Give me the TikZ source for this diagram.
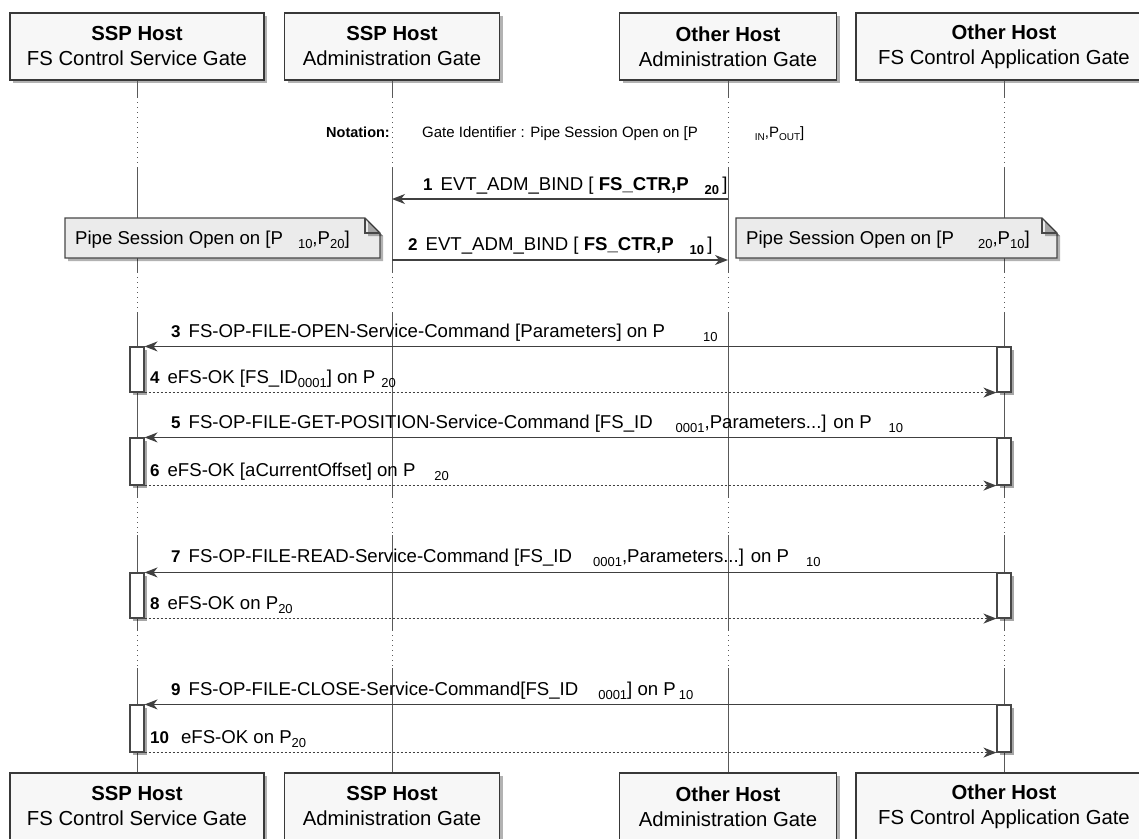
\documentclass[tikz,border=0pt]{standalone}
\usepackage{fontspec}
\setmainfont{Liberation Sans}
\usetikzlibrary{arrows.meta,shadows}

\newcommand{\psub}[1]{\raisebox{-4.5bp}{\fontsize{13bp}{13bp}\selectfont #1}}
\newcommand{\tsub}[1]{\raisebox{-3bp}{\fontsize{10bp}{10bp}\selectfont #1}}
\newcommand{\mnum}[1]{{\bfseries\fontsize{17bp}{17bp}\selectfont #1}\hspace{8bp}}

\begin{document}
\begin{tikzpicture}[x=1bp,y=-1bp,
  part/.style={draw=black!78,line width=1.4bp,fill=black!3,minimum height=67bp,inner sep=0,align=center,
    font=\fontsize{20.3bp}{25bp}\selectfont,
    drop shadow={shadow xshift=3bp,shadow yshift=-3bp,fill=black,opacity=0.3}},
  lifeok/.style={draw=black!65,line width=1bp},
  lifedot/.style={lifeok,dash pattern=on 1bp off 4bp},
  act/.style={draw=black!72,line width=1.1bp,fill=white,minimum width=14bp,inner sep=0,
    drop shadow={shadow xshift=3bp,shadow yshift=-3bp,fill=black,opacity=0.35}},
  msg/.style={draw=black!75,line width=1.2bp,-{Stealth[length=13bp,width=10bp,inset=4bp]}},
  reply/.style={msg,dash pattern=on 2bp off 2bp},
  lbl/.style={anchor=base west,inner sep=0,font=\fontsize{18.6bp}{22bp}\selectfont},
  notebox/.style={draw=black!72,line width=1.1bp,fill=black!8,
    drop shadow={shadow xshift=3bp,shadow yshift=-3bp,fill=black,opacity=0.3}}]

\useasboundingbox (0,0) rectangle (1139,839);

% gates, top row and bottom row
\node[part,minimum width=254bp] (svc)  at (137,46.5)  {\textbf{SSP Host}\\FS Control Service Gate};
\node[part,minimum width=215bp] (sadm) at (392,46.5)  {\textbf{SSP Host}\\Administration Gate};
\node[part,minimum width=217bp] (oadm) at (728,46.5)  {\textbf{Other Host}\\Administration Gate};
\node[part,minimum width=296bp] (app)  at (1004,46.5) {\textbf{Other Host}\\FS Control Application Gate};
\node[part,minimum width=254bp] (bsvc)  at (137,806.5)  {\textbf{SSP Host}\\FS Control Service Gate};
\node[part,minimum width=215bp] (bsadm) at (392,806.5)  {\textbf{SSP Host}\\Administration Gate};
\node[part,minimum width=217bp] (boadm) at (728,806.5)  {\textbf{Other Host}\\Administration Gate};
\node[part,minimum width=296bp] (bapp)  at (1004,806.5) {\textbf{Other Host}\\FS Control Application Gate};

% lifelines, dotted where time is skipped
\foreach \g in {svc,sadm,oadm,app}{
  \draw[lifeok] (\g.south) -- (\g|-0,97);
  \foreach \ya/\yb in {97/167,272/312,497/535,630/668}
    \draw[lifedot] (\g|-0,\ya) -- (\g|-0,\yb);
  \foreach \ya/\yb in {167/272,312/497,535/630}
    \draw[lifeok] (\g|-0,\ya) -- (\g|-0,\yb);
  \draw[lifeok] (\g|-0,668) -- (b\g.north);
}

% notation
\node[anchor=base east,inner sep=0,font=\fontsize{14.5bp}{16bp}\selectfont\bfseries] (nota) at (390,137) {Notation:};
\node[anchor=base west,inner sep=0,font=\fontsize{15bp}{16bp}\selectfont] (notb) at (422,137)
  {Gate Identifier : Pipe Session Open on [P\hspace{57bp}\tsub{IN},P\tsub{OUT}]};

% binding
\coordinate (m1o) at (oadm|-0,199); \coordinate (m1s) at (sadm|-0,199);
\coordinate (m2s) at (sadm|-0,260); \coordinate (m2o) at (oadm|-0,260);
\draw[msg] (m1o) -- (m1s);
\draw[msg] (m2s) -- (m2o);
\node[lbl] (t1) at (423,190) {\mnum{1}EVT\_ADM\_BIND [ \textbf{FS\_CTR,P}\hspace{16bp}\psub{\textbf{20}}\,]};
\node[lbl] (t2) at (408,250) {\mnum{2}EVT\_ADM\_BIND [ \textbf{FS\_CTR,P}\hspace{16bp}\psub{\textbf{10}}\,]};

% notes
\draw[notebox] (65,218) -- (365,218) -- (380,233) -- (380,258) -- (65,258) -- cycle;
\draw[notebox,fill=none,drop shadow={opacity=0}] (365,218) |- (380,233);
\node[lbl] (n1) at (75,244) {Pipe Session Open on [P\hspace{15bp}\psub{10},P\psub{20}]};
\draw[notebox] (736,218) -- (1042,218) -- (1057,233) -- (1057,258) -- (736,258) -- cycle;
\draw[notebox,fill=none,drop shadow={opacity=0}] (1042,218) |- (1057,233);
\node[lbl] (n2) at (746,244) {Pipe Session Open on [P\hspace{24bp}\psub{20},P\psub{10}]};

% activations
\node[act,minimum height=45bp] (actL3) at (137,369.5) {};
\node[act,minimum height=45bp] (actR3) at (1004,369.5) {};
\node[act,minimum height=47bp] (actL5) at (137,461.5) {};
\node[act,minimum height=47bp] (actR5) at (1004,461.5) {};
\node[act,minimum height=45bp] (actL7) at (137,595.5) {};
\node[act,minimum height=45bp] (actR7) at (1004,595.5) {};
\node[act,minimum height=47bp] (actL9) at (137,728.5) {};
\node[act,minimum height=47bp] (actR9) at (1004,728.5) {};

% file service exchanges
\foreach \n in {3,5,7,9}{
  \draw[msg] (actR\n.north west) -- (actL\n.north east);
  \draw[reply] (actL\n.south east) -- (actR\n.south west);
}
\node[lbl] (t3) at (171,337) {\mnum{3}FS-OP-FILE-OPEN-Service-Command [Parameters] on P\hspace{38bp}\psub{10}};
\node[lbl] (t4) at (150,383) {\mnum{4}eFS-OK [FS\_ID\psub{0001}] on P\hspace{6bp}\psub{20}};
\node[lbl] (t5) at (171,428) {\mnum{5}FS-OP-FILE-GET-POSITION-Service-Command [FS\_ID\hspace{23bp}\psub{0001},Parameters...] on P\hspace{17bp}\psub{10}};
\node[lbl] (t6) at (150,476) {\mnum{6}eFS-OK [aCurrentOffset] on P\hspace{19bp}\psub{20}};
\node[lbl] (t7) at (171,562) {\mnum{7}FS-OP-FILE-READ-Service-Command [FS\_ID\hspace{21bp}\psub{0001},Parameters...] on P\hspace{17bp}\psub{10}};
\node[lbl] (t8) at (150,609) {\mnum{8}eFS-OK on P\psub{20}};
\node[lbl] (t9) at (171,695) {\mnum{9}FS-OP-FILE-CLOSE-Service-Command[FS\_ID\hspace{20bp}\psub{0001}] on P\hspace{3bp}\psub{10}};
\node[lbl] (t10) at (150,743) {\mnum{10}\hspace{4bp}eFS-OK on P\psub{20}};
\end{tikzpicture}
\end{document}
